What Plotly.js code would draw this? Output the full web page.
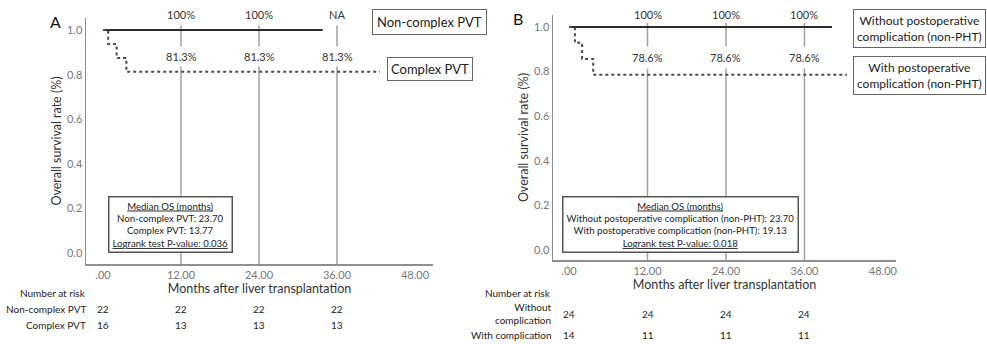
<!DOCTYPE html>
<html>
<head>
<meta charset="utf-8">
<script src="https://cdn.plot.ly/plotly-3.0.1.min.js"></script>
<style>html,body{margin:0;padding:0;background:#fff;}#chart{width:987px;height:344px;}</style>
</head>
<body>
<div id="chart"></div>
<script>
// ---- Data ----
// Panel A: PVT type
const aNonComplexTime = [0, 33.8];
const aNonComplexSurv = [1, 1];
const aComplexTime = [0, 0.8, 2.1, 3.6, 42.6];
const aComplexSurv = [1, 0.9375, 0.875, 0.8125, 0.8125];
const aTopLabels = ['100%', '100%', 'NA'];
const aMidLabels = ['81.3%', '81.3%', '81.3%'];
const aRiskNonComplex = [22, 22, 22, 22];
const aRiskComplex = [16, 13, 13, 13];

// Panel B: postoperative complication
const bWithoutTime = [0, 40.2];
const bWithoutSurv = [1, 1];
const bWithTime = [0, 0.9, 2.0, 3.7, 42.5];
const bWithSurv = [1, 0.929, 0.857, 0.786, 0.786];
const bTopLabels = ['100%', '100%', '100%'];
const bMidLabels = ['78.6%', '78.6%', '78.6%'];
const bRiskWithout = [24, 24, 24, 24];
const bRiskWith = [14, 11, 11, 11];

const landmarkMonths = [12, 24, 36];
const riskMonths = [0, 12, 24, 36];
const xTickVals = [0, 12, 24, 36, 48];
const xTickText = ['.00', '12.00', '24.00', '36.00', '48.00'];
const yTickVals = [0, 0.2, 0.4, 0.6, 0.8, 1.0];
const yTickText = ['0.0', '0.2', '0.4', '0.6', '0.8', '1.0'];

// ---- Layout helpers ----
const W = 987, H = 344;
const px = v => v / W;
const py = v => 1 - v / H;
const FONT = 'Lato, "Open Sans", sans-serif';
const CURVE = '#2b2b2b';
const AXIS = '#8f8f8f';
const TXT = '#333';

function landmarkTrace(xa, ya) {
  const xs = [], ys = [];
  landmarkMonths.forEach(m => { xs.push(m, m, null); ys.push(-0.06, 1.02, null); });
  return {x: xs, y: ys, xaxis: xa, yaxis: ya, mode: 'lines', line: {color: '#a0a0a0', width: 1.5}, hoverinfo: 'skip', cliponaxis: false};
}

const traces = [
  landmarkTrace('x', 'y'),
  {x: aNonComplexTime, y: aNonComplexSurv, xaxis: 'x', yaxis: 'y', mode: 'lines', line: {shape: 'hv', color: CURVE, width: 2}, name: 'Non-complex PVT'},
  {x: aComplexTime, y: aComplexSurv, xaxis: 'x', yaxis: 'y', mode: 'lines', line: {shape: 'hv', color: '#4a4a4a', width: 2, dash: 'dot'}, name: 'Complex PVT'},
  landmarkTrace('x2', 'y2'),
  {x: bWithoutTime, y: bWithoutSurv, xaxis: 'x2', yaxis: 'y2', mode: 'lines', line: {shape: 'hv', color: CURVE, width: 2}, name: 'Without postoperative complication (non-PHT)'},
  {x: bWithTime, y: bWithSurv, xaxis: 'x2', yaxis: 'y2', mode: 'lines', line: {shape: 'hv', color: '#4a4a4a', width: 2, dash: 'dot'}, name: 'With postoperative complication (non-PHT)'}
];

function xAxis(domain, range) {
  return {
    domain: domain, range: range, tickvals: xTickVals, ticktext: xTickText,
    showline: true, linecolor: AXIS, linewidth: 1.5, showgrid: false, zeroline: false,
    ticks: '', tickfont: {family: FONT, size: 11, color: '#777'},
    title: {text: 'Months after liver transplantation', font: {family: FONT, size: 12.5, color: TXT}, standoff: 0},
    fixedrange: true
  };
}
function yAxis(domain, range, anchor) {
  return {
    domain: domain, range: range, tickvals: yTickVals, ticktext: yTickText, anchor: anchor,
    showline: true, linecolor: AXIS, linewidth: 1.5, showgrid: false, zeroline: false,
    ticks: '', tickfont: {family: FONT, size: 11, color: '#777'},
    title: {text: 'Overall survival rate (%)', font: {family: FONT, size: 12.5, color: TXT}, standoff: 2},
    fixedrange: true
  };
}

const ann = [];
function txt(o) { ann.push(Object.assign({showarrow: false, xanchor: 'center', yanchor: 'middle', font: {family: FONT, size: 11, color: TXT}}, o)); }

// Panel letters
txt({xref: 'paper', yref: 'paper', x: px(55), y: py(21), text: 'A', font: {family: FONT, size: 16, color: '#111'}});
txt({xref: 'paper', yref: 'paper', x: px(518), y: py(19), text: 'B', font: {family: FONT, size: 16, color: '#111'}});

// Landmark labels
landmarkMonths.forEach((m, i) => {
  txt({xref: 'x', yref: 'paper', x: m, y: py(15), text: aTopLabels[i], bgcolor: '#fff'});
  txt({xref: 'x', yref: 'paper', x: m, y: py(57), text: aMidLabels[i], bgcolor: '#fff', borderpad: 3});
  txt({xref: 'x2', yref: 'paper', x: m, y: py(15), text: bTopLabels[i], bgcolor: '#fff'});
  txt({xref: 'x2', yref: 'paper', x: m, y: py(58), text: bMidLabels[i], bgcolor: '#fff', borderpad: 4});
});

// Curve label boxes
const boxFont = {family: FONT, size: 13, color: '#222'};
const boxFontB = {family: FONT, size: 12, color: '#222'};
txt({xref: 'paper', yref: 'paper', x: px(429.5), y: py(22), text: 'Non-complex PVT', font: boxFont, bordercolor: '#666', borderwidth: 1, borderpad: 4, bgcolor: '#fff'});
txt({xref: 'paper', yref: 'paper', x: px(430), y: py(69), text: 'Complex PVT', font: boxFont, bordercolor: '#666', borderwidth: 1, borderpad: 3, bgcolor: '#fff'});
txt({xref: 'paper', yref: 'paper', x: px(919), y: py(28.5), text: 'Without postoperative<br>complication (non-PHT)', font: boxFontB, bordercolor: '#666', borderwidth: 1, borderpad: 3, bgcolor: '#fff'});
txt({xref: 'paper', yref: 'paper', x: px(919), y: py(75.5), text: 'With postoperative<br>complication (non-PHT)', font: boxFontB, bordercolor: '#666', borderwidth: 1, borderpad: 3, bgcolor: '#fff'});

// Median OS boxes
const U = s => '<span style="text-decoration:underline">' + s + '</span>';
const medFont = {family: FONT, size: 9.6, color: '#222'};
txt({xref: 'paper', yref: 'paper', x: px(170), y: py(224), font: medFont, bgcolor: '#fff', bordercolor: '#555', borderwidth: 1.5, borderpad: 3,
  text: U('Median OS (months)') + '<br>Non-complex PVT: 23.70<br>Complex PVT: 13.77<br>' + U('Logrank test P-value: 0.036')});
txt({xref: 'paper', yref: 'paper', x: px(680), y: py(224), font: medFont, bgcolor: '#fff', bordercolor: '#555', borderwidth: 1.5, borderpad: 3,
  text: U('Median OS (months)') + '<br>Without postoperative complication (non-PHT): 23.70<br>With postoperative complication (non-PHT): 19.13<br>' + U('Logrank test P-value: 0.018')});

// Number at risk tables
const riskFont = {family: FONT, size: 10, color: '#222'};
txt({xref: 'paper', yref: 'paper', x: px(88), y: py(293), xanchor: 'right', text: 'Number at risk', font: riskFont});
txt({xref: 'paper', yref: 'paper', x: px(88), y: py(309), xanchor: 'right', text: 'Non-complex PVT', font: riskFont});
txt({xref: 'paper', yref: 'paper', x: px(88), y: py(325), xanchor: 'right', text: 'Complex PVT', font: riskFont});
txt({xref: 'paper', yref: 'paper', x: px(553), y: py(293), xanchor: 'right', text: 'Number at risk', font: riskFont});
txt({xref: 'paper', yref: 'paper', x: px(553), y: py(313), xanchor: 'right', align: 'right', text: 'Without<br>complication', font: riskFont});
txt({xref: 'paper', yref: 'paper', x: px(553), y: py(335), xanchor: 'right', text: 'With complication', font: riskFont});
riskMonths.forEach((m, i) => {
  txt({xref: 'x', yref: 'paper', x: m, y: py(309), text: String(aRiskNonComplex[i]), font: riskFont});
  txt({xref: 'x', yref: 'paper', x: m, y: py(325), text: String(aRiskComplex[i]), font: riskFont});
  txt({xref: 'x2', yref: 'paper', x: m, y: py(314), text: String(bRiskWithout[i]), font: riskFont});
  txt({xref: 'x2', yref: 'paper', x: m, y: py(335), text: String(bRiskWith[i]), font: riskFont});
});

const layout = {
  width: W, height: H,
  margin: {l: 0, r: 0, t: 0, b: 0},
  paper_bgcolor: '#fff', plot_bgcolor: '#fff',
  showlegend: false,
  font: {family: FONT, color: TXT},
  xaxis: Object.assign(xAxis([px(86), px(433)], [-2.615, 50.77]), {anchor: 'y'}),
  yaxis: yAxis([py(264), py(18)], [-0.049, 1.054], 'x'),
  xaxis2: Object.assign(xAxis([px(553), px(896)], [-2.45, 50.0]), {anchor: 'y2'}),
  yaxis2: yAxis([py(260), py(15)], [-0.045, 1.054], 'x2'),
  annotations: ann
};

Plotly.newPlot('chart', traces, layout, {staticPlot: true, displayModeBar: false});
</script>
</body>
</html>
